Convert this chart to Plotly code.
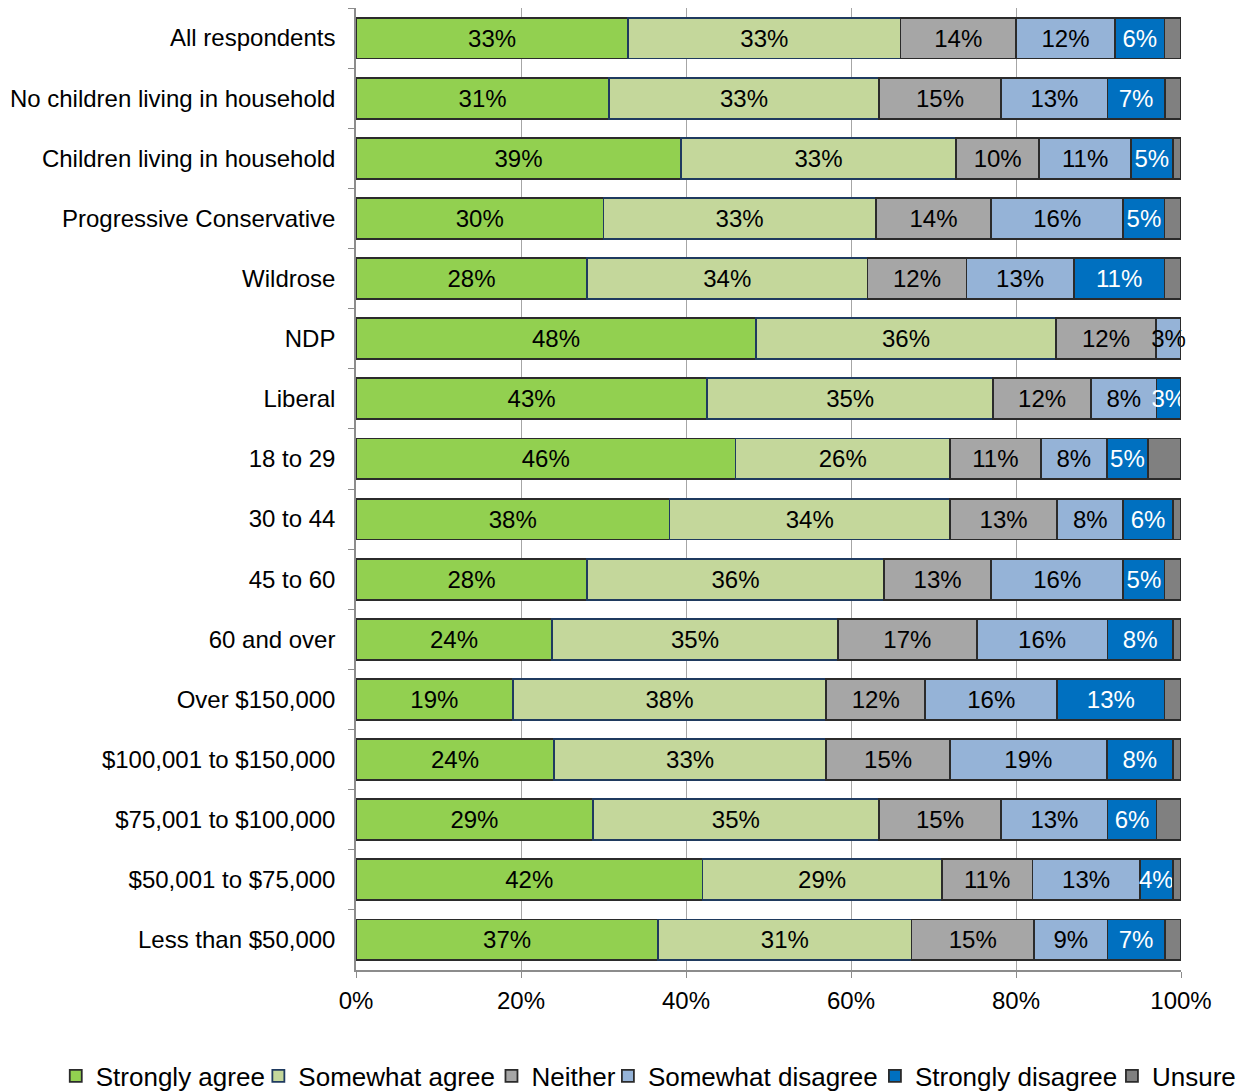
import plotly.graph_objects as go

# Survey response shares by respondent group (percent)
groups = [
    "All respondents",
    "No children living in household",
    "Children living in household",
    "Progressive Conservative",
    "Wildrose",
    "NDP",
    "Liberal",
    "18 to 29",
    "30 to 44",
    "45 to 60",
    "60 and over",
    "Over $150,000",
    "$100,001 to $150,000",
    "$75,001 to $100,000",
    "$50,001 to $75,000",
    "Less than $50,000",
]

strongly_agree = [33, 31, 39, 30, 28, 48, 43, 46, 38, 28, 24, 19, 24, 29, 42, 37]
somewhat_agree = [33, 33, 33, 33, 34, 36, 35, 26, 34, 36, 35, 38, 33, 35, 29, 31]
neither = [14, 15, 10, 14, 12, 12, 12, 11, 13, 13, 17, 12, 15, 15, 11, 15]
somewhat_disagree = [12, 13, 11, 16, 13, 3, 8, 8, 8, 16, 16, 16, 19, 13, 13, 9]
strongly_disagree = [6, 7, 5, 5, 11, 0, 3, 5, 6, 5, 8, 13, 8, 6, 4, 7]
unsure = [2, 2, 1, 2, 2, 0, 0, 4, 1, 2, 1, 2, 1, 3, 1, 2]

x_ticks = [0, 20, 40, 60, 80, 100]

FONT = "Liberation Sans, Arial, sans-serif"

series = [
    # name, values, fill, outline, label colour, show labels, clip labels
    ("Strongly agree", strongly_agree, "#92D050", "#2B2B2B", "#000000", True, True),
    ("Somewhat agree", somewhat_agree, "#C4D79B", "#1F3A5F", "#000000", True, True),
    ("Neither", neither, "#A6A6A6", "#2B2B2B", "#000000", True, True),
    ("Somewhat disagree", somewhat_disagree, "#95B3D7", "#2B2B2B", "#000000", True, False),
    ("Strongly disagree", strongly_disagree, "#0070C0", "#2B2B2B", "#FFFFFF", True, True),
    ("Unsure", unsure, "#808080", "#2B2B2B", "#000000", False, True),
]

# Left edge (container fraction) of each legend entry along the bottom row
legend_left = [0.0444, 0.2057, 0.3913, 0.4840, 0.6966, 0.8853]

fig = go.Figure()
layout_legends = {}
for i, (name, vals, fill, outline, tcol, labelled, clip) in enumerate(series):
    labels = [f"{v}%" if (labelled and v > 0) else "" for v in vals]
    legend_id = "legend" if i == 0 else f"legend{i + 1}"
    fig.add_trace(
        go.Bar(
            name=name,
            y=groups,
            x=vals,
            orientation="h",
            text=labels,
            textposition="inside",
            insidetextanchor="middle",
            textangle=0,
            constraintext="none",
            textfont=dict(family=FONT, size=24, color=tcol),
            cliponaxis=clip,
            marker=dict(color=fill, line=dict(color=outline, width=1.8)),
            hoverinfo="skip",
            legend=legend_id,
        )
    )
    layout_legends[legend_id] = dict(
        orientation="h",
        xref="container",
        yref="container",
        x=legend_left[i],
        xanchor="left",
        y=0.0138,
        yanchor="middle",
        font=dict(family=FONT, size=26, color="#000000"),
        itemwidth=30,
        bgcolor="rgba(0,0,0,0)",
    )

fig.update_layout(
    barmode="stack",
    barnorm="percent",
    bargap=0.32,
    width=1256,
    height=1091,
    margin=dict(l=356, r=75, t=8, b=121),
    paper_bgcolor="white",
    plot_bgcolor="white",
    font=dict(family=FONT, size=24, color="#000000"),
    showlegend=True,
    **layout_legends,
)

fig.update_xaxes(
    range=[0, 100],
    tickvals=x_ticks,
    ticktext=[f"{t}%" for t in x_ticks],
    showgrid=True,
    gridcolor="#A6A6A6",
    gridwidth=1,
    showline=True,
    linecolor="#8C8C8C",
    linewidth=1.5,
    ticks="outside",
    ticklen=6,
    tickcolor="#8C8C8C",
    tickfont=dict(family=FONT, size=24, color="#000000"),
    ticklabelstandoff=2,
    zeroline=False,
    fixedrange=True,
)

fig.update_yaxes(
    autorange="reversed",
    showgrid=False,
    showline=True,
    linecolor="#8C8C8C",
    linewidth=1.5,
    ticks="outside",
    tickson="boundaries",
    ticklen=6,
    tickcolor="#8C8C8C",
    tickfont=dict(family=FONT, size=24, color="#000000"),
    ticklabelstandoff=14,
    fixedrange=True,
)

fig.write_html("out.html")
